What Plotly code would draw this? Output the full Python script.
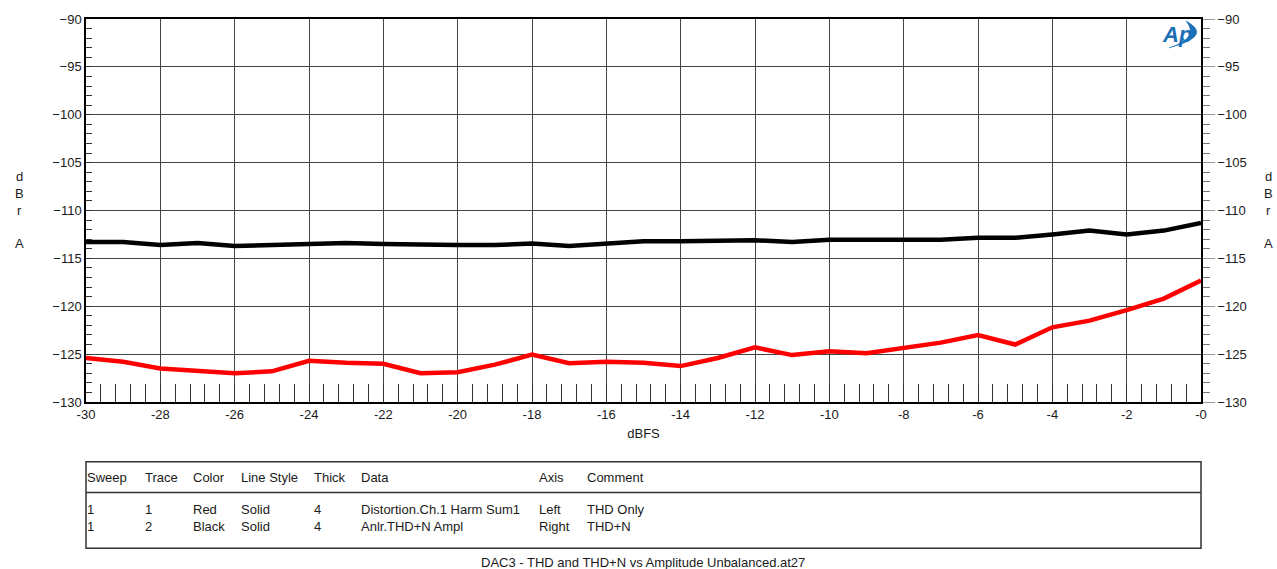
import plotly.graph_objects as go

# ---- data ----
x_dbfs = [-30, -29, -28, -27, -26, -25, -24, -23, -22, -21, -20, -19, -18, -17, -16,
          -15, -14, -13, -12, -11, -10, -9, -8, -7, -6, -5, -4, -3, -2, -1, 0]
thd_only = [-125.4, -125.8, -126.5, -126.8, -127.0, -126.8, -125.7, -125.9, -126.0, -127.0,
            -126.9, -126.1, -125.05, -125.95, -125.8, -125.9, -126.25, -125.4, -124.3, -125.1,
            -124.7, -124.9, -124.4, -123.8, -123.0, -124.0, -122.2, -121.5, -120.4, -119.2, -117.3]
thd_n = [-113.3, -113.3, -113.6, -113.4, -113.7, -113.6, -113.6, -113.4, -113.5, -113.6,
         -113.6, -113.6, -113.45, -113.7, -113.45, -113.2, -113.2, -113.2, -113.1, -113.3,
         -113.05, -113.05, -113.05, -113.05, -112.85, -112.85, -112.5, -112.1, -112.5, -112.1, -111.3]

x_ticks = [-30, -28, -26, -24, -22, -20, -18, -16, -14, -12, -10, -8, -6, -4, -2, 0]
x_ticktext = ["-30", "-28", "-26", "-24", "-22", "-20", "-18", "-16", "-14", "-12",
              "-10", "-8", "-6", "-4", "-2", "-0"]
y_ticks = [-90, -95, -100, -105, -110, -115, -120, -125, -130]

table_headers = ["Sweep", "Trace", "Color", "Line Style", "Thick", "Data", "Axis", "Comment"]
table_row1 = ["1", "1", "Red", "Solid", "4", "Distortion.Ch.1 Harm Sum1", "Left", "THD Only"]
table_row2 = ["1", "2", "Black", "Solid", "4", "Anlr.THD+N Ampl", "Right", "THD+N"]
title_text = "DAC3 - THD and THD+N vs Amplitude Unbalanced.at27"

# ---- layout geometry (pixels) ----
W, H = 1277, 569
L, R, T, B = 86, 1201, 17, 402


def px(xp):
    return (xp - L) / (R - L)


def py(yp):
    return (B - yp) / (B - T)


FONT = "Liberation Sans, Arial, sans-serif"
TXT = "#1a1a1a"
FS = 13

fig = go.Figure()
fig.add_trace(go.Scatter(x=x_dbfs, y=thd_only, mode="lines", yaxis="y",
                         line=dict(color="#ff0000", width=4.5), name="THD Only"))
fig.add_trace(go.Scatter(x=x_dbfs, y=thd_n, mode="lines", yaxis="y2",
                         line=dict(color="#000000", width=4.5), name="THD+N"))

annotations = []
# left / right unit labels
for letter, yp in zip(["d", "B", "r", "A"], [175, 192, 209, 243]):
    for xp in (19, 1268):
        annotations.append(dict(x=px(xp), y=py(yp), xref="paper", yref="paper", text=letter,
                                showarrow=False, xanchor="center", yanchor="middle",
                                font=dict(family=FONT, size=FS, color=TXT)))

# table text
col_x = [87, 145, 193, 241, 314, 361, 539, 587]
for row, yp in [(table_headers, 478), (table_row1, 510), (table_row2, 527)]:
    for cx, t in zip(col_x, row):
        annotations.append(dict(x=px(cx - 2), y=py(yp), xref="paper", yref="paper", text=t,
                                showarrow=False, xanchor="left", yanchor="middle",
                                font=dict(family=FONT, size=FS, color=TXT)))

annotations.append(dict(x=px(643), y=py(563), xref="paper", yref="paper", text=title_text,
                        showarrow=False, xanchor="center", yanchor="middle",
                        font=dict(family=FONT, size=FS, color=TXT)))

# Ap logo
annotations.append(dict(x=px(1177), y=py(33), xref="paper", yref="paper",
                        text="<b><i>Ap</i></b>", showarrow=False,
                        xanchor="center", yanchor="middle",
                        font=dict(family="Liberation Sans, Arial", size=22, color="#1a6fb5")))

shapes = [
    dict(type="rect", xref="paper", yref="paper", x0=px(86), x1=px(1201), y0=py(462), y1=py(549),
         line=dict(color="#333", width=1.5)),
    dict(type="line", xref="paper", yref="paper", x0=px(86), x1=px(1201), y0=py(493), y1=py(493),
         line=dict(color="#333", width=1.5)),
    # logo crescent
    dict(type="path", xref="paper", yref="paper",
         path=f"M {px(1186)},{py(19)} Q {px(1214)},{py(34)} {px(1169)},{py(46)} "
              f"Q {px(1200)},{py(36)} {px(1186)},{py(19)} Z",
         fillcolor="#1a6fb5", line=dict(color="#1a6fb5", width=0.5)),
]

fig.update_layout(
    width=W, height=H,
    margin=dict(l=L, r=W - R, t=T, b=H - B),
    paper_bgcolor="white", plot_bgcolor="white",
    showlegend=False,
    font=dict(family=FONT, size=FS, color=TXT),
    xaxis=dict(range=[-30, 0], tickvals=x_ticks, ticktext=x_ticktext,
               showgrid=True, gridcolor="#444", gridwidth=1,
               showline=True, linecolor="black", linewidth=1.5, mirror=True,
               ticks="inside", ticklen=18, tickcolor="#333", tickwidth=1,
               minor=dict(dtick=0.4, tick0=-30, ticks="inside", ticklen=18, tickcolor="#333",
                          tickwidth=1, showgrid=False),
               zeroline=False, tickfont=dict(size=FS, color=TXT),
               title=dict(text="dBFS", font=dict(size=FS, color=TXT), standoff=8)),
    yaxis=dict(range=[-130, -90], tickvals=y_ticks,
               showgrid=True, gridcolor="#444", gridwidth=1,
               showline=True, linecolor="black", linewidth=1.5, mirror=True,
               ticks="inside", ticklen=6, tickcolor="#333",
               minor=dict(dtick=1, ticks="inside", ticklen=6, tickcolor="#333", showgrid=False),
               zeroline=False, tickfont=dict(size=FS, color=TXT)),
    yaxis2=dict(range=[-130, -90], tickvals=y_ticks, overlaying="y", side="right",
                showgrid=False, showline=True, linecolor="black", linewidth=1.5,
                ticks="outside", ticklen=12, tickcolor="#999",
                minor=dict(dtick=1, ticks="outside", ticklen=7, tickcolor="#777"),
                zeroline=False, tickfont=dict(size=FS, color=TXT)),
    annotations=annotations,
    shapes=shapes,
)

fig.write_html("out.html")
